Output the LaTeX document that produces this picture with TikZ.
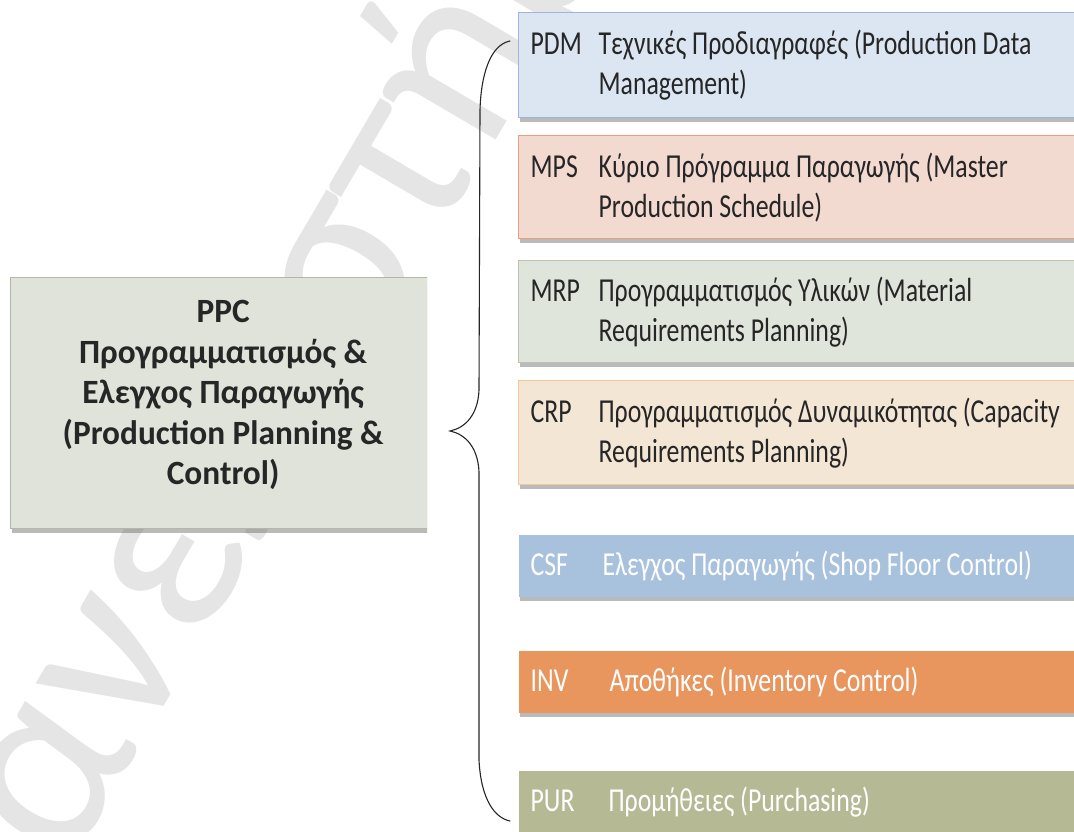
\documentclass[tikz,border=0pt]{standalone}
\usepackage{fontspec}
\setmainfont{Carlito}
\newfontfamily\itemfont[FakeStretch=0.77]{Carlito}
\newfontfamily\headfont[FakeStretch=0.98]{Carlito}
\usetikzlibrary{shadows}

% box colours
\definecolor{pdmfill}{HTML}{DCE6F2}\definecolor{pdmline}{HTML}{9DB7D9}
\definecolor{mpsfill}{HTML}{F3DAD0}\definecolor{mpsline}{HTML}{E9A07E}
\definecolor{mrpfill}{HTML}{E0E5DB}\definecolor{mrpline}{HTML}{BCC4B0}
\definecolor{crpfill}{HTML}{F4E6D5}\definecolor{crpline}{HTML}{F2C894}
\definecolor{csffill}{HTML}{A8C2DE}
\definecolor{invfill}{HTML}{E9965E}
\definecolor{purfill}{HTML}{B5BA95}
\definecolor{ppcfill}{HTML}{DFE3D9}\definecolor{ppcline}{HTML}{B3B8A3}
\definecolor{darktext}{HTML}{262626}
\definecolor{wmgray}{HTML}{E5E5E5}

\newcommand\itemtag[2]{\makebox[#1][l]{#2}}

\tikzset{
  boxshadow/.style={drop shadow={shadow xshift=1pt,shadow yshift=-4pt,opacity=0.45,fill=black!60}},
  itembox/.style={boxshadow, anchor=north west, rectangle, line width=1.3pt,
    minimum width=600pt, text width=576pt, inner xsep=12pt, inner ysep=0pt,
    align=flush left, font=\itemfont\fontsize{33.5}{40}\selectfont},
  darkitem/.style={itembox, text=darktext},
  lightitem/.style={itembox, text=white, draw=none},
  ppcbox/.style={boxshadow, anchor=north west, rectangle, fill=ppcfill, draw=ppcline,
    line width=1.3pt, minimum width=425pt, minimum height=251pt},
  ppctext/.style={align=center, text=darktext, inner sep=0pt,
    font=\headfont\bfseries\fontsize{34}{40.6}\selectfont},
  bracestyle/.style={draw=black!85, line width=1.1pt, line cap=round}
}

\begin{document}
\begin{tikzpicture}[x=1pt,y=-1pt]
\useasboundingbox (0,0) rectangle (1074,832);

% faint background lettering
\node[rotate=59.6, anchor=base west, text=wmgray, inner sep=0pt,
      font=\fontsize{255}{255}\selectfont] (wm) at (-13,1008) {Πανεπιστήμιο};

% main block
\begin{scope}
  \clip (0,0) rectangle (427,832);
  \node[ppcbox] (ppc) at (10,277) {};
\end{scope}
\node[ppctext] (ppclabel) at ([yshift=8pt]ppc.center)
  {PPC\\Προγραμματισμός \&\\Ελεγχος Παραγωγής\\(Production Planning \&\\Control)};

% sub-systems
\node[darkitem, fill=pdmfill, draw=pdmline, minimum height=105pt] (pdm) at (518,12)
  {\itemtag{68pt}{PDM}Τεχνικές Προδιαγραφές (Production Data\\\hspace*{68pt}Management)};
\node[darkitem, fill=mpsfill, draw=mpsline, minimum height=103pt] (mps) at (518,135)
  {\itemtag{68pt}{MPS}Κύριο Πρόγραμμα Παραγωγής (Master\\\hspace*{68pt}Production Schedule)};
\node[darkitem, fill=mrpfill, draw=mrpline, minimum height=102pt] (mrp) at (518,260)
  {\itemtag{68pt}{MRP}Προγραμματισμός Υλικών (Material\\\hspace*{68pt}Requirements Planning)};
\node[darkitem, fill=crpfill, draw=crpline, minimum height=104pt] (crp) at (518,380)
  {\itemtag{68pt}{CRP}Προγραμματισμός Δυναμικότητας (Capacity\\\hspace*{68pt}Requirements Planning)};
\node[lightitem, fill=csffill, minimum height=62pt] (csf) at (518,534)
  {\itemtag{72pt}{CSF}Ελεγχος Παραγωγής (Shop Floor Control)};
\node[lightitem, fill=invfill, minimum height=62pt] (inv) at (518,650)
  {\itemtag{79pt}{INV}Αποθήκες (Inventory Control)};
\node[lightitem, fill=purfill, minimum height=62pt] (pur) at (518,770)
  {\itemtag{78pt}{PUR}Προμήθειες (Purchasing)};

% brace grouping the sub-systems
\coordinate (bracetop) at ([xshift=-8pt,yshift=-29pt]pdm.north west);
\coordinate (bracetip) at (450,431);
\coordinate (bracebot) at (510,821);
\draw[bracestyle] (bracetop) .. controls (490,45) and (481,75) .. (480,110)
  -- (479,390) .. controls (478,415) and (465,428) .. (bracetip)
  .. controls (465,434) and (478,447) .. (479,472)
  -- (479,760) .. controls (481,800) and (495,818) .. (bracebot);
\end{tikzpicture}
\end{document}
